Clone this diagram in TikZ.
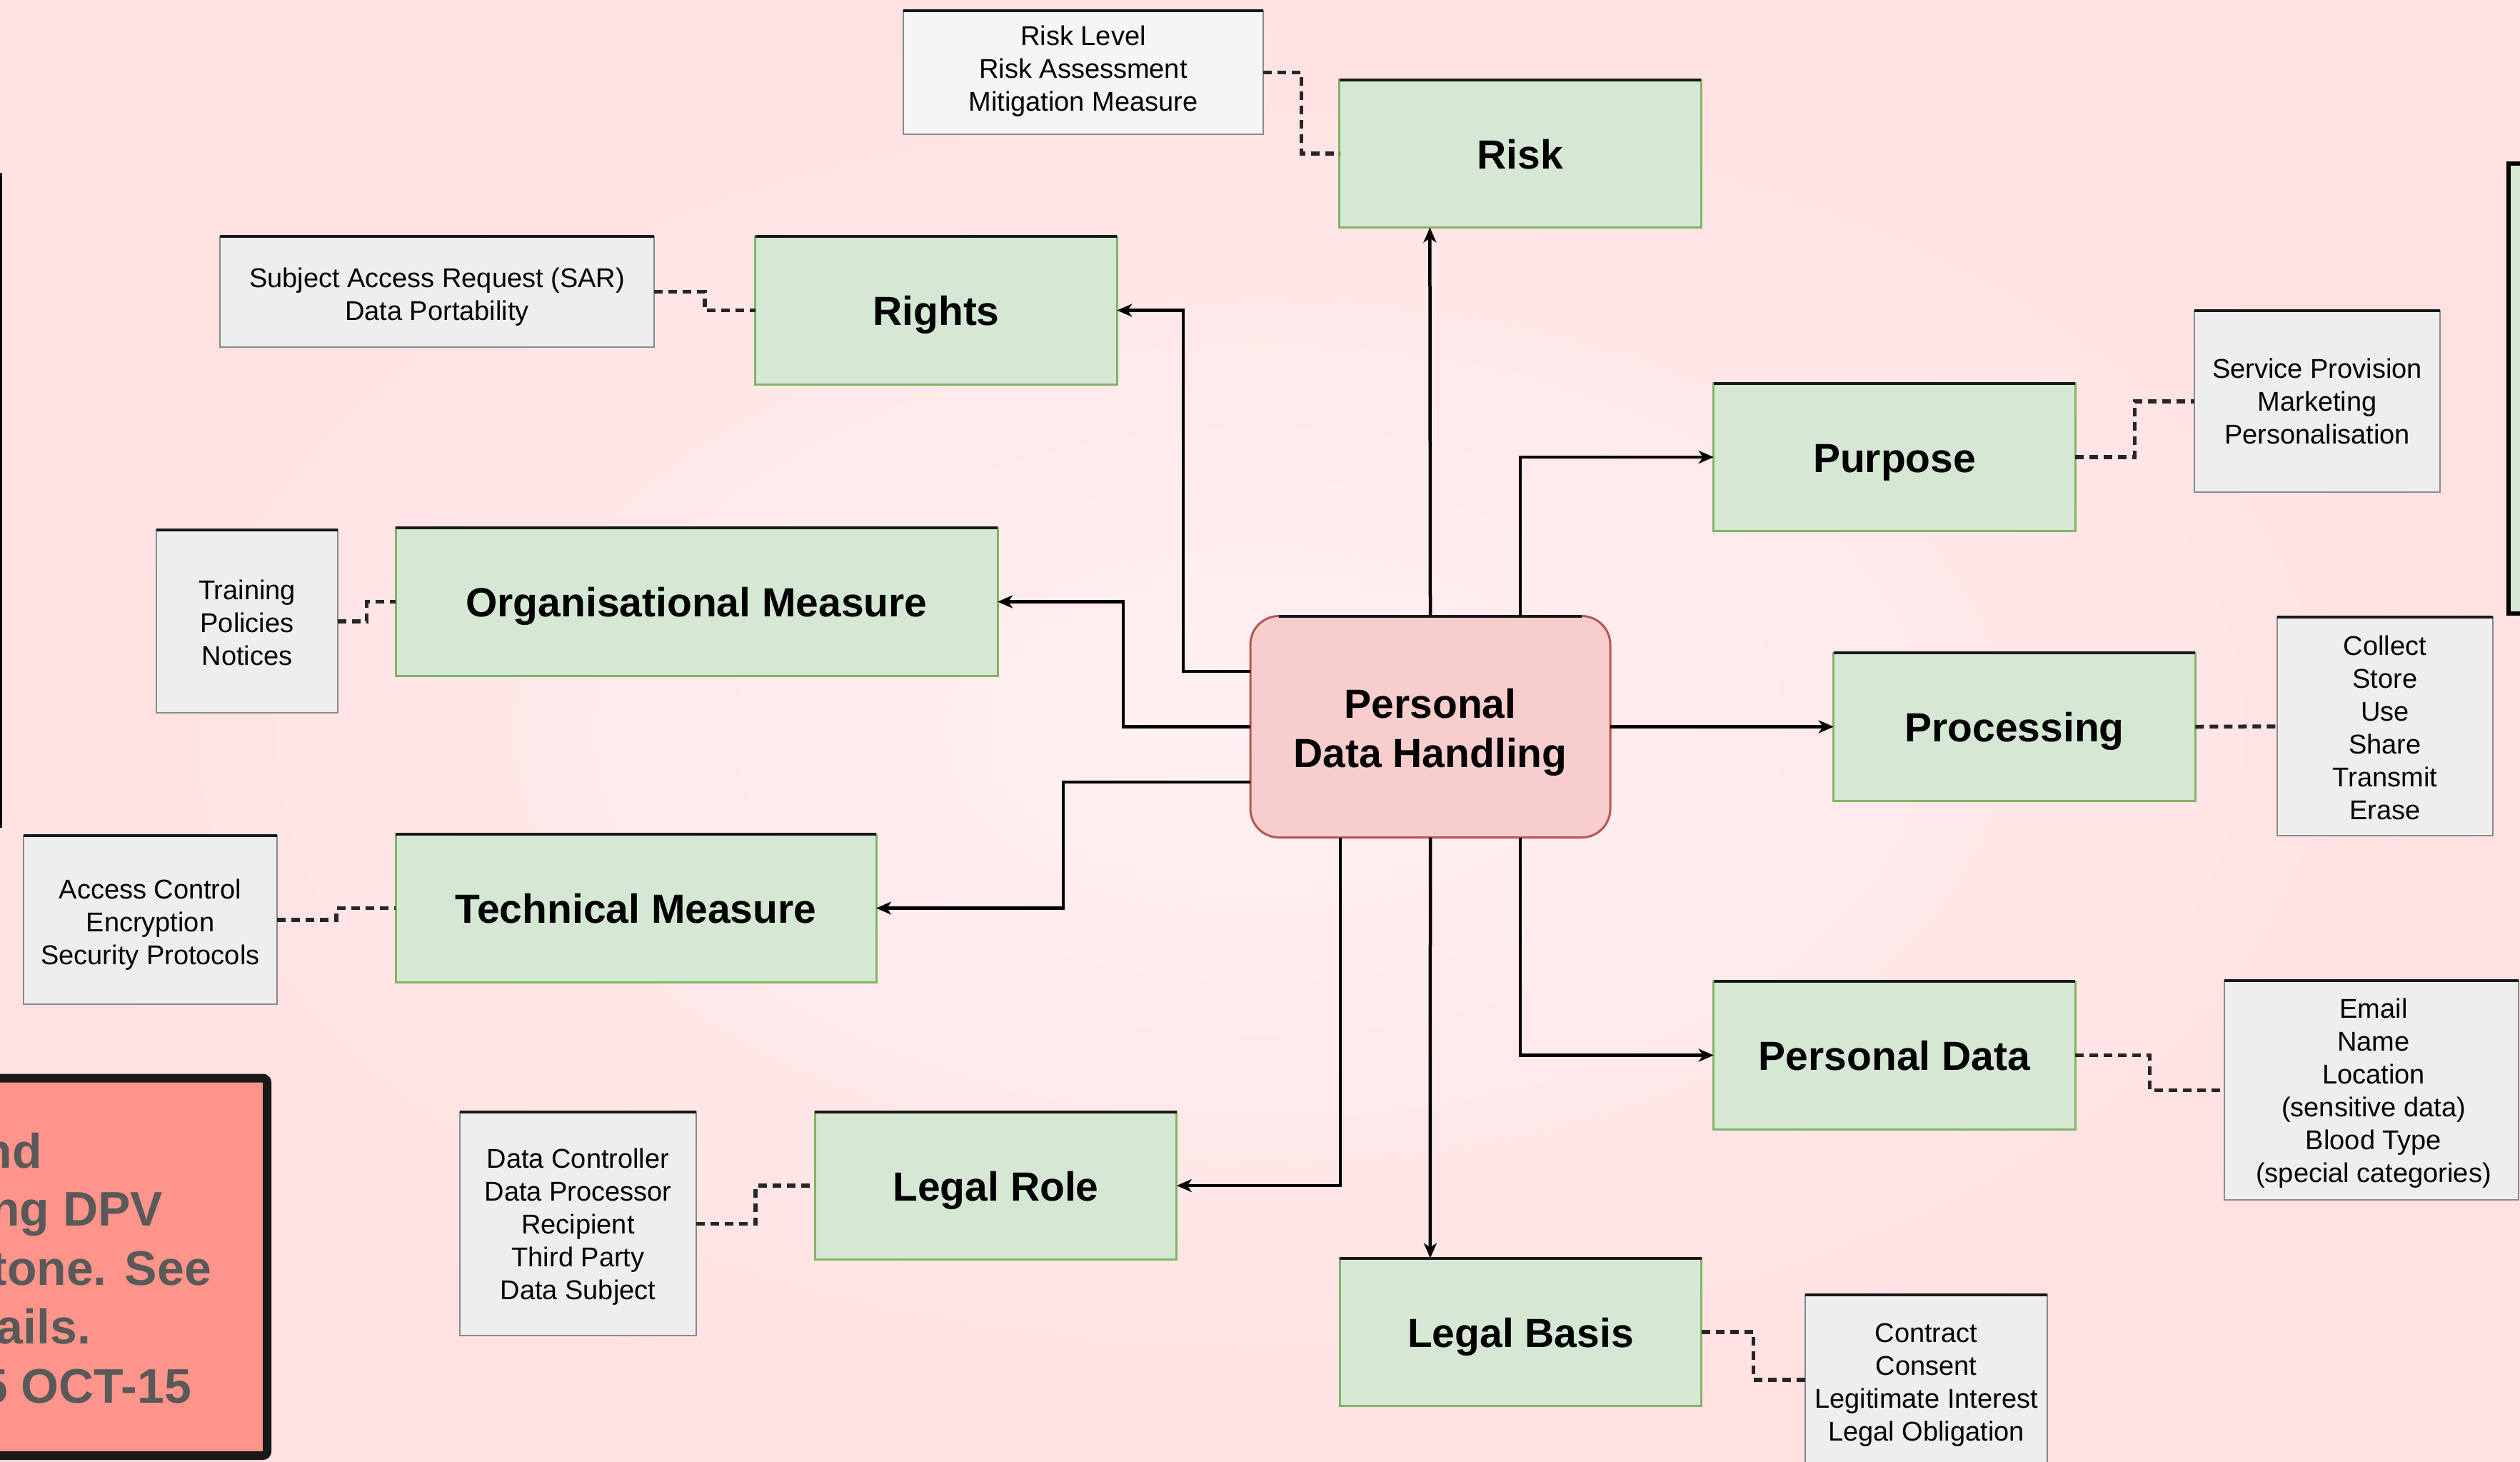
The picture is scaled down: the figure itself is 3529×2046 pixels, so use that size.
\documentclass[tikz,border=0pt]{standalone}
\usepackage{fontspec}
\setmainfont{Liberation Sans}
\usetikzlibrary{arrows.meta,calc}

\definecolor{bgin}{HTML}{FFF1F3}
\definecolor{bgout}{HTML}{FFE1E1}
\definecolor{gfill}{HTML}{D5E8D4}
\definecolor{gline}{HTML}{82B366}
\definecolor{dfill}{HTML}{EEEEEE}
\definecolor{dfillb}{HTML}{F5F5F5}
\definecolor{dline}{HTML}{8A8A8A}
\definecolor{pfill}{HTML}{F8CECC}
\definecolor{pline}{HTML}{B85450}
\definecolor{rfill}{HTML}{FF958A}
\definecolor{rtext}{HTML}{595959}

\begin{document}
\begin{tikzpicture}[x=0.2pt,y=-0.2pt,
  greenbox/.style={draw=gline, fill=gfill, line width=0.6pt, minimum width=101.3pt, minimum height=41.4pt,
    inner sep=0pt, outer sep=0pt, font=\bfseries\fontsize{11.4}{13.8}\selectfont,
    text height=0.84em, text depth=0pt},
  detail/.style={draw=dline, fill=dfill, line width=0.5pt, inner sep=0pt, outer sep=0pt},
  dtext/.style={font=\fontsize{7.6}{9.2}\selectfont, align=center, inner sep=0pt},
  arr/.style={draw=black, line width=0.9pt, -{Stealth[length=4.2pt,width=3.6pt,inset=1.2pt]}},
  dotc/.style={draw=black!85, line width=1.1pt, dash pattern=on 2.4pt off 1.6pt},
  topedge/.style={line width=0.8pt, draw=black!90},
  redtxt/.style={font=\bfseries\fontsize{13.6}{16}\selectfont, text=rtext, inner sep=0pt, outer sep=0pt}
]
\useasboundingbox (0,0) rectangle (3529,2046);
\clip (0,0) rectangle (3529,2046);
\shade[inner color=bgin, outer color=bgout] (0,0) rectangle (3529,2046);

% off-canvas frames
\draw[line width=0.6pt, draw=black] (-200,243) rectangle (1,1157);
\draw[line width=1.1pt, draw=black, fill=gfill] (3513,229) rectangle (3700,859);

% red note box
\draw[line width=2.4pt, draw=black!90, fill=rfill, rounded corners=1.2pt] (-200,1509.5) rectangle (374,2038);
\node[redtxt, anchor=base east] (r1) at (59,1635) {and};
\node[redtxt, anchor=base east] (r2) at (228,1716) {ing DPV};
\node[redtxt, anchor=base east] (r3) at (296,1799) {stone. See};
\node[redtxt, anchor=base east] (r4) at (127,1881) {tails.};
\node[redtxt, anchor=base east] (r5) at (268,1964) {25 OCT-15};

% central node
\node[draw=pline, fill=pfill, line width=0.6pt, rounded corners=8pt, minimum width=100.8pt, minimum height=62pt,
  inner sep=0pt, outer sep=0pt] (pdh) at (2003,1017.5) {};
\draw[topedge] ([xshift=8pt]pdh.north west) -- ([xshift=-8pt]pdh.north east);
\node[align=center, inner sep=0pt, font=\bfseries\fontsize{11.4}{13.8}\selectfont] (pdht)
  at ([yshift=-1.6pt]pdh.center) {Personal\\Data Handling};

% green nodes
\node[greenbox] (risk) at (2129,215) {Risk};
\node[greenbox] (rights) at (1311,434.5) {Rights};
\node[greenbox] (purpose) at (2653,640) {Purpose};
\node[greenbox, minimum width=168.6pt] (org) at (975.5,842.5) {Organisational Measure};
\node[greenbox] (processing) at (2821,1017.5) {Processing};
\node[greenbox, minimum width=134.6pt] (tech) at (890.5,1271.5) {Technical Measure};
\node[greenbox] (pd) at (2653,1477.5) {Personal Data};
\node[greenbox] (legalrole) at (1394.5,1660) {Legal Role};
\node[greenbox] (lb) at (2129.5,1865) {Legal Basis};

% detail nodes (boxes)
\node[detail, fill=dfillb, minimum width=100.8pt, minimum height=34.6pt] (riskd) at (1517,101.5) {};
\node[detail, minimum width=121.6pt, minimum height=31pt] (sar) at (612,408.5) {};
\node[detail, minimum width=68.8pt, minimum height=50.8pt] (service) at (3245,562) {};
\node[detail, minimum width=50.8pt, minimum height=51.2pt] (training) at (346,870) {};
\node[detail, minimum width=60.4pt, minimum height=61.2pt] (collect) at (3340,1017) {};
\node[detail, minimum width=71pt, minimum height=47.2pt] (access) at (210.5,1288) {};
\node[detail, minimum width=82.4pt, minimum height=61.4pt] (email) at (3321,1526.5) {};
\node[detail, minimum width=66.2pt, minimum height=62.6pt] (dc) at (809.5,1713.5) {};
\node[detail, minimum width=67.8pt, minimum height=47.6pt] (contract) at (2697.5,1932) {};

% detail texts
\node[dtext] (riskdt) at ([yshift=0.45pt]riskd.center) {Risk Level\\Risk Assessment\\Mitigation Measure};
\node[dtext] (sart) at ([yshift=-1.35pt]sar.center) {Subject Access Request (SAR)\\Data Portability};
\node[dtext] (servicet) at (service.center) {Service Provision\\Marketing\\Personalisation};
\node[dtext] (trainingt) at ([yshift=-0.45pt]training.center) {Training\\Policies\\Notices};
\node[dtext] (collectt) at ([yshift=-0.45pt]collect.center) {Collect\\Store\\Use\\Share\\Transmit\\Erase};
\node[dtext] (accesst) at ([yshift=-1.35pt]access.center) {Access Control\\Encryption\\Security Protocols};
\node[dtext] (emailt) at ([xshift=0.6pt,yshift=-0.9pt]email.center) {Email\\Name\\Location\\(sensitive data)\\Blood Type\\(special categories)};
\node[dtext] (dct) at ([yshift=-0.9pt]dc.center) {Data Controller\\Data Processor\\Recipient\\Third Party\\Data Subject};
\node[dtext] (contractt) at ([yshift=-1.35pt]contract.center) {Contract\\Consent\\Legitimate Interest\\Legal Obligation};

% black top edges
\foreach \n in {risk,rights,purpose,org,processing,tech,pd,legalrole,lb,riskd,sar,service,training,collect,access,email,dc,contract}
  \draw[topedge] (\n.north west) -- (\n.north east);

% solid connectors
\draw[arr] (pdh.north) -- ($(risk.south west)!0.25!(risk.south east)$);
\draw[arr] ($(pdh.north west)!0.75!(pdh.north east)$) |- (purpose.west);
\draw[arr] (pdh.east) -- (processing.west);
\draw[arr] ($(pdh.south west)!0.75!(pdh.south east)$) |- (pd.west);
\draw[arr] (pdh.south) -- ($(lb.north west)!0.25!(lb.north east)$);
\draw[arr] ($(pdh.south west)!0.25!(pdh.south east)$) |- (legalrole.east);
\draw[arr] ($(pdh.north west)!0.25!(pdh.south west)$) -- ++(-94,0) |- (rights.east);
\draw[arr] (pdh.west) -- ++(-178,0) |- (org.east);
\draw[arr] ($(pdh.north west)!0.75!(pdh.south west)$) -- ++(-262,0) |- (tech.east);

% dotted connectors
\draw[dotc] (riskd.east) -| ($(riskd.east)!0.5!(risk.west)$) |- (risk.west);
\draw[dotc] (sar.east) -| ($(sar.east)!0.5!(rights.west)$) |- (rights.west);
\draw[dotc] (training.east) -| ($(training.east)!0.5!(org.west)$) |- (org.west);
\draw[dotc] (access.east) -| ($(access.east)!0.5!(tech.west)$) |- (tech.west);
\draw[dotc] (dc.east) -| ($(dc.east)!0.5!(legalrole.west)$) |- (legalrole.west);
\draw[dotc] (purpose.east) -| ($(purpose.east)!0.5!(service.west)$) |- (service.west);
\draw[dotc] (processing.east) -- (collect.west);
\draw[dotc] (pd.east) -| ($(pd.east)!0.5!(email.west)$) |- (email.west);
\draw[dotc] (lb.east) -| ($(lb.east)!0.5!(contract.west)$) |- (contract.west);
\end{tikzpicture}
\end{document}
